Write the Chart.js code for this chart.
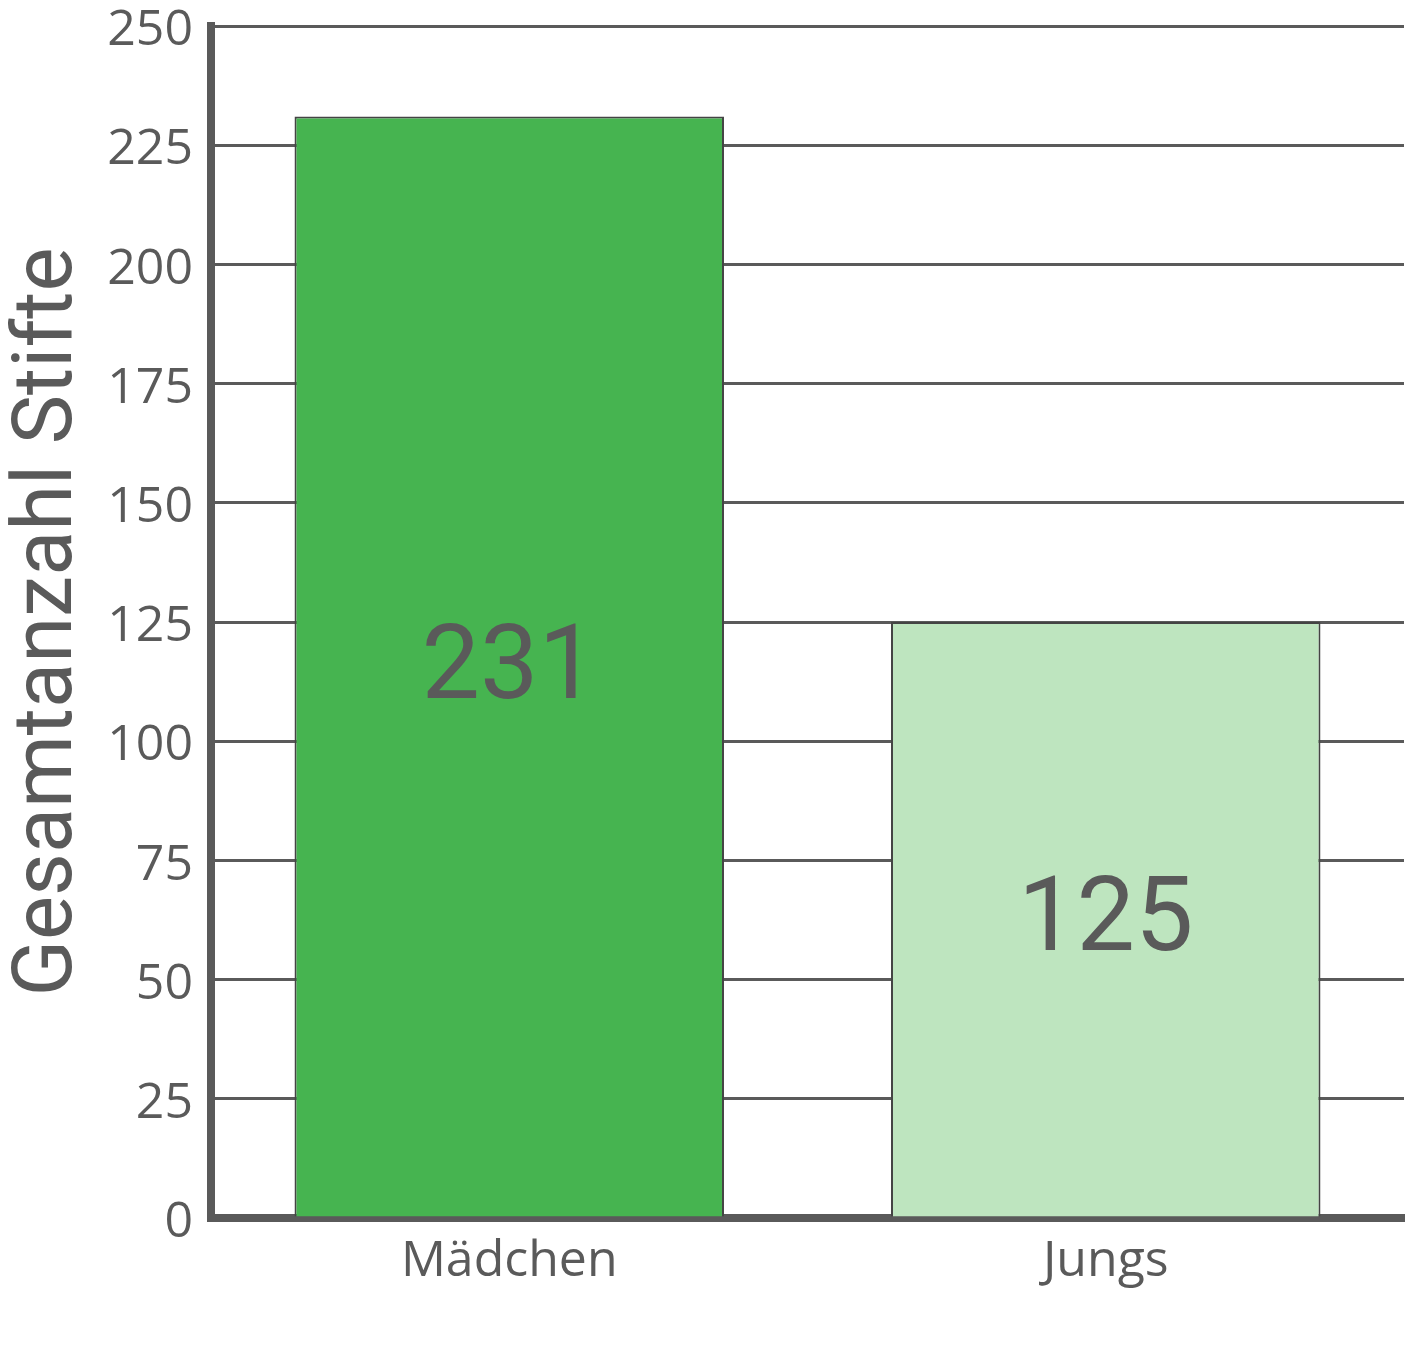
<!DOCTYPE html>
<html>
<head>
<meta charset="utf-8">
<script src="https://cdn.jsdelivr.net/npm/chart.js@4"></script>
<style>
  body { margin: 0; background: #fff; }
  #wrap { width: 1408px; height: 1355px; }
</style>
</head>
<body>
<div id="wrap"><canvas id="stifteChart"></canvas></div>
<script>
// Daten
const categories = ['Mädchen', 'Jungs'];
const totals = [231, 125];
const barColors = ['#46b450', '#bee5bf'];
const yTicks = [0, 25, 50, 75, 100, 125, 150, 175, 200, 225, 250];

const axisGray = '#5a5a5a';

Chart.defaults.animation = false;
Chart.defaults.color = axisGray;

// Werte mittig in die Balken schreiben
const valueLabels = {
    id: 'valueLabels',
    afterDatasetsDraw(chart) {
        const ctx = chart.ctx;
        const meta = chart.getDatasetMeta(0);
        ctx.save();
        ctx.font = "104px Roboto";
        ctx.fillStyle = axisGray;
        ctx.textAlign = 'center';
        ctx.textBaseline = 'middle';
        meta.data.forEach((bar, i) => {
            const p = bar.getProps(['x', 'y', 'base'], true);
            ctx.fillText(String(totals[i]), p.x, (p.y + p.base) / 2 + 5);
        });
        ctx.restore();
    }
};

const ctx = document.getElementById('stifteChart').getContext('2d');
new Chart(ctx, {
    type: 'bar',
    data: {
        labels: categories,
        datasets: [{
            data: totals,
            backgroundColor: barColors,
            borderColor: '#444',
            borderWidth: 2,
            barPercentage: 0.72,
            categoryPercentage: 1
        }]
    },
    options: {
        responsive: true,
        maintainAspectRatio: false,
        layout: { padding: { top: 26, right: 4, left: 0, bottom: 0 } },
        plugins: {
            legend: { display: false },
            tooltip: { enabled: false }
        },
        scales: {
            x: {
                grid: { display: false },
                border: { color: axisGray, width: 8 },
                ticks: {
                    font: { family: "'Open Sans'", size: 50 },
                    color: axisGray,
                    padding: 6
                },
                afterFit: function(scale) { scale.height = 137; }
            },
            y: {
                min: 0,
                max: 250,
                afterBuildTicks: function(scale) {
                    scale.ticks = yTicks.map(v => ({ value: v }));
                },
                grid: { color: axisGray, lineWidth: 3, drawTicks: false },
                border: { color: axisGray, width: 8 },
                ticks: {
                    font: { family: "'Open Sans'", size: 50 },
                    color: axisGray,
                    padding: 18,
                    labelOffset: 5
                },
                title: {
                    display: true,
                    text: 'Gesamtanzahl Stifte',
                    font: { family: 'Roboto', size: 83 },
                    color: axisGray,
                    padding: 0
                },
                afterFit: function(scale) {
                    scale.width = 211;
                    scale.paddingTop = 0;
                    scale.paddingBottom = 0;
                }
            }
        }
    },
    plugins: [valueLabels]
});
</script>
</body>
</html>
